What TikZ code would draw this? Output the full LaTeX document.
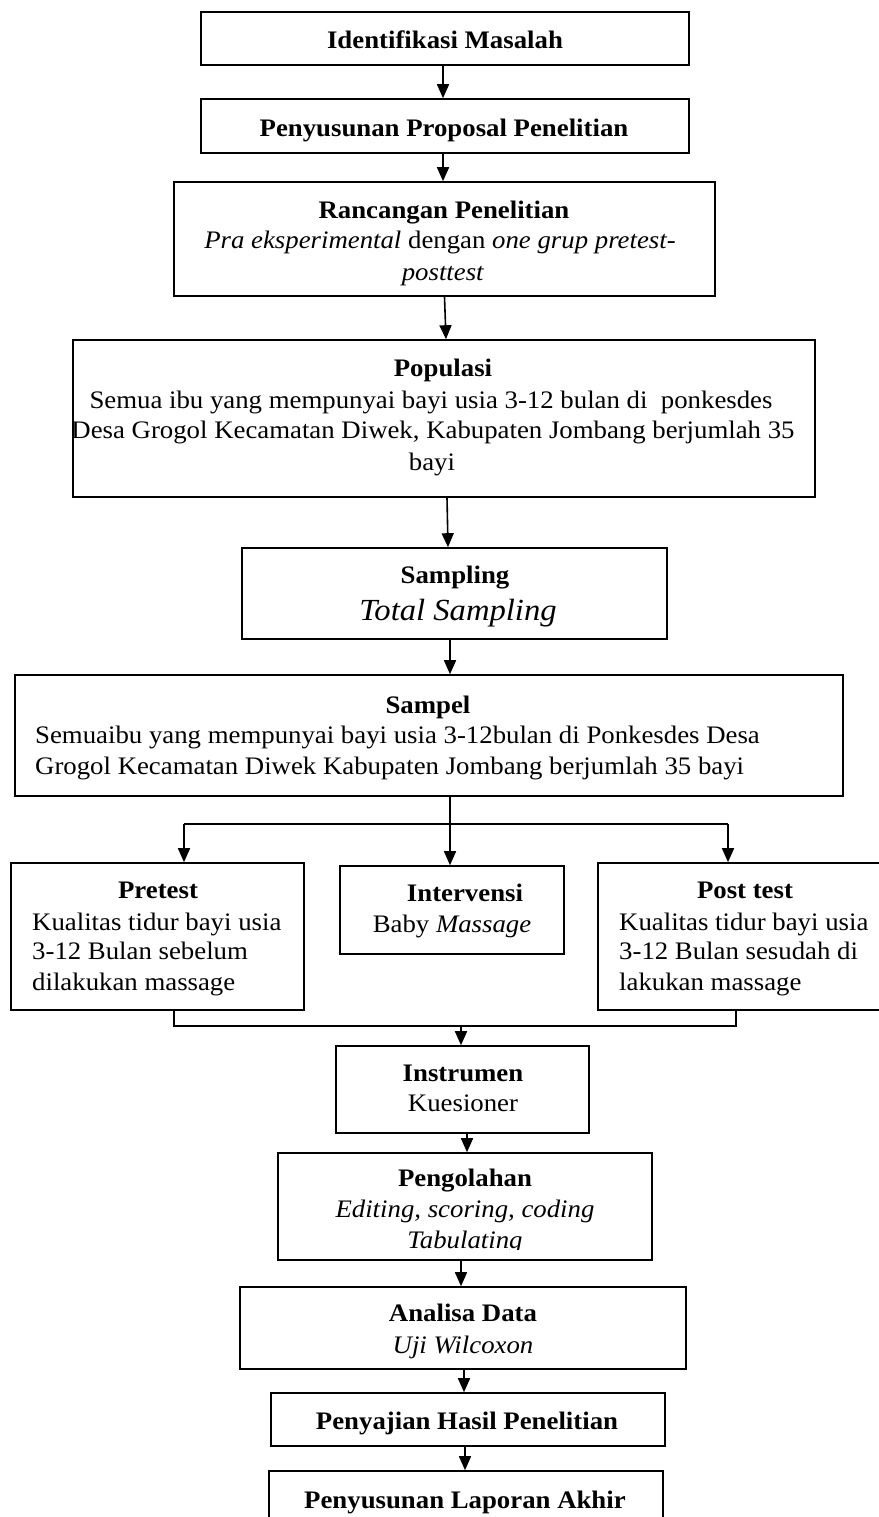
\documentclass[tikz,border=0pt]{standalone}
\usepackage{fontspec}
\setmainfont{Liberation Serif}[FakeStretch=1.063]
\usetikzlibrary{arrows.meta}
\newcommand\fsz{\fontsize{25.2}{30}\selectfont}
\newcommand\fbig{\fontsize{30.7}{34}\selectfont}
\begin{document}
\begin{tikzpicture}[x=1pt,y=-1pt,
  box/.style={draw, line width=1.6pt, inner sep=0pt},
  txt/.style={inner sep=0pt, anchor=base, font=\fsz},
  ltxt/.style={inner sep=0pt, anchor=base west, font=\fsz},
  ln/.style={line width=1.6pt},
  arr/.style={line width=1.6pt, -{Triangle[length=14pt,width=12pt]}}]
\useasboundingbox (0,0) rectangle (878,1517);

% boxes
\node[box, minimum width=488pt, minimum height=53pt] (b1) at (445,38.5) {};
\node[box, minimum width=488pt, minimum height=54pt] (b2) at (445,126) {};
\node[box, minimum width=541pt, minimum height=114pt] (b3) at (444.5,239) {};
\node[box, minimum width=742pt, minimum height=157pt] (b4) at (444,418.5) {};
\node[box, minimum width=425pt, minimum height=91pt] (b5) at (454.5,593.5) {};
\node[box, minimum width=828pt, minimum height=121pt] (b6) at (429,735.5) {};
\node[box, minimum width=293pt, minimum height=147pt] (b7) at (157.5,936.5) {};
\node[box, minimum width=224pt, minimum height=88pt] (b8) at (452,910) {};
\node[box, minimum width=284pt, minimum height=147pt] (b9) at (740,936.5) {};
\node[box, minimum width=253pt, minimum height=87pt] (b10) at (462.5,1089.5) {};
\node[box, minimum width=374pt, minimum height=107pt] (b11) at (465,1206.5) {};
\node[box, minimum width=446pt, minimum height=82pt] (b12) at (463,1328) {};
\node[box, minimum width=394pt, minimum height=53pt] (b13) at (468,1419.5) {};
\node[box, minimum width=394pt, minimum height=60pt] (b14) at (466,1501) {};

% texts
\node[txt] (t1) at (445,48.3) {\textbf{Identifikasi Masalah}};
\node[txt] (t2) at (444,136.3) {\textbf{Penyusunan Proposal Penelitian}};
\node[txt] (t3a) at (444,218.3) {\textbf{Rancangan Penelitian}};
\node[txt] (t3b) at (440,248.3) {\textit{Pra eksperimental} dengan \textit{one grup pretest-}};
\node[txt] (t3c) at (443,280.3) {\textit{posttest}};
\node[txt] (t4a) at (443,376.3) {\textbf{Populasi}};
\node[txt] (t4b) at (431,408.3) {Semua ibu yang mempunyai bayi usia 3-12 bulan di\ \ ponkesdes};
\node[txt] (t4c) at (433,438.3) {Desa Grogol Kecamatan Diwek, Kabupaten Jombang berjumlah 35};
\node[txt] (t4d) at (432,470.3) {bayi};
\node[txt] (t5a) at (455,583.3) {\textbf{Sampling}};
\node[txt, font=\fbig] (t5b) at (458,620.5) {\textit{Total Sampling}};
\node[txt] (t6a) at (428,713.3) {\textbf{Sampel}};
\node[ltxt] (t6b) at (35,743.3) {Semuaibu yang mempunyai bayi usia 3-12bulan di Ponkesdes Desa};
\node[ltxt] (t6c) at (35,774.3) {Grogol Kecamatan Diwek Kabupaten Jombang berjumlah 35 bayi};
\node[txt] (t7a) at (158,898.3) {\textbf{Pretest}};
\node[ltxt] (t7b) at (32,930.3) {Kualitas tidur bayi usia};
\node[ltxt] (t7c) at (32,959.3) {3-12 Bulan sebelum};
\node[ltxt] (t7d) at (32,990.3) {dilakukan massage};
\node[txt] (t8a) at (465,901.3) {\textbf{Intervensi}};
\node[txt] (t8b) at (452,932.3) {Baby \textit{Massage}};
\node[txt] (t9a) at (745,898.3) {\textbf{Post test}};
\node[ltxt] (t9b) at (619,930.3) {Kualitas tidur bayi usia};
\node[ltxt] (t9c) at (619,959.3) {3-12 Bulan sesudah di};
\node[ltxt] (t9d) at (619,990.3) {lakukan massage};
\node[txt] (t10a) at (463,1081.3) {\textbf{Instrumen}};
\node[txt] (t10b) at (463,1111.3) {Kuesioner};
\node[txt] (t11a) at (465,1186.3) {\textbf{Pengolahan}};
\node[txt] (t11b) at (465,1217.3) {\textit{Editing, scoring, coding}};
\begin{scope}
\clip (278,1153) rectangle (652,1249);
\node[txt] (t11c) at (465,1248.3) {\textit{Tabulating}};
\end{scope}
\node[txt] (t12a) at (463,1321.3) {\textbf{Analisa Data}};
\node[txt] (t12b) at (463,1353.3) {\textit{Uji Wilcoxon}};
\node[txt] (t13) at (467,1429.3) {\textbf{Penyajian Hasil Penelitian}};
\node[txt] (t14) at (465,1508.3) {\textbf{Penyusunan Laporan Akhir}};

% connectors
\draw[arr] ([xshift=-2pt]b1.south) -- ([xshift=-2pt]b1.south |- b2.north);
\draw[arr] ([xshift=-2pt]b2.south) -- ([xshift=-2pt]b2.south |- b3.north);
\draw[arr] (b3.south) -- ([xshift=2pt]b4.north);
\draw[arr] ([xshift=3pt]b4.south) -- ([xshift=4pt]b4.south |- b5.north);
\draw[arr] ([xshift=-4.5pt]b5.south) -- ([xshift=-4.5pt]b5.south |- b6.north);

\coordinate (f0) at (450,824);
\coordinate (fl) at (184,824);
\coordinate (fr) at (728,824);
\draw[ln] (b6.south -| f0) -- (f0);
\draw[ln] (fl) -- (fr);
\draw[arr] (f0) -- (f0 |- b8.north);
\draw[arr] (fl) -- (fl |- b7.north);
\draw[arr] (fr) -- (fr |- b9.north);

\coordinate (jl) at (174,1026);
\coordinate (jr) at (736,1026);
\coordinate (jm) at (461,1026);
\draw[ln] (b7.south -| jl) -- (jl) -- (jr) -- (b9.south -| jr);
\draw[arr] (jm) -- (jm |- b10.north);
\draw[arr] ([xshift=4.5pt]b10.south) -- ([xshift=4.5pt]b10.south |- b11.north);
\draw[arr] ([xshift=-4pt]b11.south) -- ([xshift=-4pt]b11.south |- b12.north);
\draw[arr] ([xshift=1pt]b12.south) -- ([xshift=1pt]b12.south |- b13.north);
\draw[arr] ([xshift=-3pt]b13.south) -- ([xshift=-3pt]b13.south |- b14.north);
\end{tikzpicture}
\end{document}
